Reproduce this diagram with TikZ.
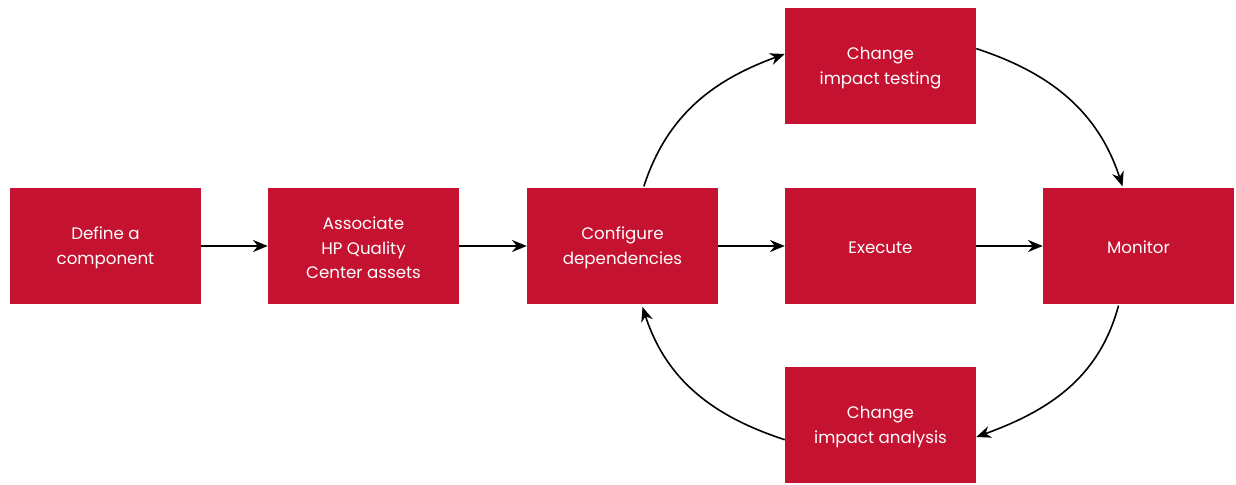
\documentclass[tikz,border=0pt]{standalone}
\usepackage{fontspec}
\setmainfont{Poppins}
\usetikzlibrary{arrows.meta}
\definecolor{hpred}{HTML}{C41230}
\begin{document}
\begin{tikzpicture}[x=0.75pt,y=-0.75pt,
  box/.style={fill=hpred,text=white,minimum width=143.25pt,minimum height=87pt,
    inner sep=0pt,align=center,font=\fontsize{12.5}{18.5}\selectfont},
  lbl/.style={text=white,align=center,font=\fontsize{12.5}{18.5}\selectfont,inner sep=0pt},
  conn/.style={line width=1.2pt,-{Stealth[length=11pt,width=9pt]}}]
\useasboundingbox (0,0) rectangle (1236,485);
\node[box] (def) at (105.5,246) {};
\node[box] (ass) at (363.5,246) {};
\node[box] (conf) at (622.5,246) {};
\node[box] (exe) at (880.5,246) {};
\node[box] (mon) at (1138.5,246) {};
\node[box] (test) at (880.5,66) {};
\node[box] (ana) at (880.5,425) {};
\node[lbl] (tdef) at ([yshift=-1.5pt]def.center) {Define a\\component};
\node[lbl] (tass) at ([yshift=-1.5pt]ass.center) {Associate\\HP Quality\\Center assets};
\node[lbl] (tconf) at ([yshift=-1.5pt]conf.center) {Configure\\dependencies};
\node[lbl] (texe) at ([yshift=-1pt]exe.center) {Execute};
\node[lbl] (tmon) at ([yshift=-1pt]mon.center) {Monitor};
\node[lbl] (ttest) at ([yshift=-1.5pt]test.center) {Change\\impact testing};
\node[lbl] (tana) at ([yshift=-1.5pt]ana.center) {Change\\impact analysis};
\draw[conn] (def) -- (ass);
\draw[conn] (ass) -- (conf);
\draw[conn] (conf) -- (exe);
\draw[conn] (exe) -- (mon);
\draw[conn] ([xshift=16pt,yshift=1pt]conf.north) to[out=72,in=200] ([yshift=9pt]test.west);
\draw[conn] ([yshift=13pt]test.east) to[out=-18,in=108] ([xshift=-12pt,yshift=1pt]mon.north);
\draw[conn] ([xshift=-15pt,yshift=-1pt]mon.south) to[out=-105,in=20] ([yshift=-9pt]ana.east);
\draw[conn] ([yshift=-11pt]ana.west) to[out=162,in=-72] ([xshift=15pt,yshift=-2pt]conf.south);
\end{tikzpicture}
\end{document}
